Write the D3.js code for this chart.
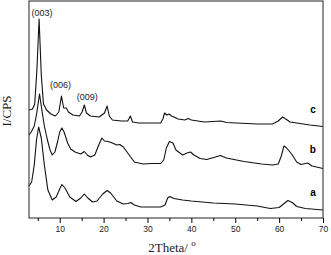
<!DOCTYPE html>
<html>
<head>
<meta charset="utf-8">
<script src="https://cdn.jsdelivr.net/npm/d3@7"></script>
<style>
  body { margin: 0; background: #fff; }
  svg { display: block; }
</style>
</head>
<body>
<script>
// XRD patterns, 2theta vs intensity (arbitrary units)
const thetaC = [3, 3.8, 4.3, 4.8, 5.3, 5.8, 6.3, 7, 8, 9, 9.8, 10.4, 10.9, 11.5, 12, 13, 14.5, 15.1, 15.6, 16.1, 17, 19, 20.2, 20.8, 21.3, 22, 24, 25.5, 26.1, 26.6, 28, 33, 33.5, 33.9, 34.4, 34.9, 35.5, 37, 38.5, 39.3, 40, 43, 46.7, 48, 55, 58.5, 59.8, 60.8, 61.5, 62.5, 64, 67, 70];
const pixC = [110, 109, 104, 70, 19, 75, 104, 110, 114, 116, 112, 96, 108, 108, 112, 115, 116, 112, 105, 113, 116, 117, 113, 106, 116, 120, 121, 121, 116, 122, 123, 123, 119, 113, 115, 114, 116, 119, 120, 118.5, 120, 122, 121, 122.5, 124, 124, 121, 117, 119, 122, 123, 125, 126.5];

const thetaB = [3, 3.5, 4.2, 4.7, 5.4, 6.0, 6.5, 7.2, 7.8, 8.3, 8.9, 9.5, 10.0, 10.5, 11, 11.8, 12.5, 13.5, 14.8, 15.6, 16.3, 17, 18, 18.8, 19.6, 20.2, 21, 22, 23, 23.7, 24.5, 25.5, 27, 29, 31, 33, 33.7, 34.3, 35, 35.8, 36.5, 38, 39, 39.8, 40.6, 42, 43.5, 45.5, 46.6, 48, 52, 56, 58.5, 59.8, 60.5, 61.1, 61.6, 62.3, 63, 64, 65, 66.5, 67.5, 70];
const pixB = [135, 132, 126, 115, 94, 112, 126, 140, 150, 155, 152, 142, 132, 128, 132, 143, 149, 152, 154, 151.5, 155, 157, 155, 146, 138, 141, 141.5, 143, 145, 144.5, 147, 153, 162, 164, 163.5, 163.5, 160, 148, 141.5, 143, 150, 155, 153, 152, 155, 158.5, 159.5, 157, 155.5, 158, 161.5, 164, 165, 164, 156, 146, 147.5, 151, 155, 162, 164.5, 163, 166, 168.5];

const thetaA = [3, 3.6, 4.2, 4.7, 5.2, 5.8, 6.5, 7.3, 8.3, 9.2, 10, 10.5, 11.2, 12.3, 13.7, 14.8, 15.6, 16.4, 17.5, 18.5, 19.8, 20.8, 21.6, 23, 24.5, 25.5, 26.2, 27, 28.5, 33, 34, 34.6, 35.1, 36, 38, 40, 45, 50, 55, 58, 60, 61, 62, 63, 64, 66, 70];
const pixA = [186, 182, 165, 140, 127, 138, 165, 190, 200, 197, 189, 184.5, 188, 197, 201.5, 198, 194, 198, 202, 201, 194, 190.5, 193, 201, 204, 203.5, 202.5, 205, 207, 207, 205, 198, 196.5, 198.5, 200, 201, 203, 204, 206, 208.5, 207.5, 204, 200.5, 202.5, 206.5, 208.5, 210];

const seriesNames = ['c', 'b', 'a'];
const peakLabels = ['(003)', '(006)', '(009)'];
const peakTheta = [5.3, 10.4, 15.6];
const xTicks = [10, 20, 30, 40, 50, 60, 70];

const width = 331, height = 255;
const margin = { top: 1, right: 8, bottom: 37, left: 29 };
const plotW = width - margin.left - margin.right;
const plotH = height - margin.top - margin.bottom;
const yTop = 218; // intensity units

const toIntensity = p => yTop - p;
const series = [
  { name: 'c', pts: thetaC.map((t, i) => [t, toIntensity(pixC[i])]) },
  { name: 'b', pts: thetaB.map((t, i) => [t, toIntensity(pixB[i])]) },
  { name: 'a', pts: thetaA.map((t, i) => [t, toIntensity(pixA[i])]) }
];

const svg = d3.select('body').append('svg')
  .attr('width', width)
  .attr('height', height);

const g = svg.append('g')
  .attr('transform', `translate(${margin.left},${margin.top})`);

const x = d3.scaleLinear().domain([3, 70]).range([0, plotW]);
const y = d3.scaleLinear().domain([0, yTop - 1]).range([plotH, 0]);

const line = d3.line()
  .x(d => x(d[0]))
  .y(d => y(d[1]));

g.selectAll('.trace')
  .data(series)
  .enter()
  .append('path')
  .attr('class', 'trace')
  .attr('d', d => line(d.pts))
  .attr('fill', 'none')
  .attr('stroke', '#111')
  .attr('stroke-width', 1.1)
  .attr('stroke-linejoin', 'round');

// frame
g.append('rect')
  .attr('x', 0).attr('y', 0)
  .attr('width', plotW).attr('height', plotH)
  .attr('fill', 'none')
  .attr('stroke', '#222')
  .attr('stroke-width', 1);

// x axis, major + minor ticks
const xAxis = g.append('g')
  .attr('transform', `translate(0,${plotH})`)
  .call(d3.axisBottom(x).tickValues(xTicks).tickSize(5).tickPadding(3));
xAxis.select('.domain').remove();
xAxis.selectAll('text')
  .attr('font-family', 'Liberation Sans, Arial, sans-serif')
  .attr('font-size', 8.5)
  .attr('fill', '#222');

g.append('g')
  .attr('transform', `translate(0,${plotH})`)
  .call(d3.axisBottom(x).tickValues(d3.range(5, 70, 10)).tickSize(3).tickFormat(''))
  .select('.domain').remove();

// series letters
const labelY = { c: 110, b: 150, a: 193 };
g.selectAll('.series-label')
  .data(seriesNames)
  .enter()
  .append('text')
  .attr('x', x(67.7))
  .attr('y', d => y(toIntensity(labelY[d])) - margin.top)
  .attr('dy', '0.35em')
  .attr('text-anchor', 'middle')
  .attr('font-family', 'Liberation Sans, Arial, sans-serif')
  .attr('font-weight', 'bold')
  .attr('font-size', 10)
  .text(d => d);

// peak labels
const peakY = [14, 86, 98];
g.selectAll('.peak-label')
  .data(peakLabels)
  .enter()
  .append('text')
  .attr('x', (d, i) => x(peakTheta[i]) + [3, -1, 3][i])
  .attr('y', (d, i) => y(toIntensity(peakY[i])) - margin.top)
  .attr('dy', '0.35em')
  .attr('text-anchor', 'middle')
  .attr('font-family', 'Liberation Sans, Arial, sans-serif')
  .attr('font-size', 9)
  .attr('fill', '#222')
  .text(d => d);

// axis titles
const xTitle = svg.append('text')
  .attr('x', 172)
  .attr('y', 252)
  .attr('text-anchor', 'middle')
  .attr('font-family', 'Liberation Serif, Times New Roman, serif')
  .attr('font-size', 13)
  .attr('fill', '#222');
xTitle.append('tspan').text('2Theta/ ');
xTitle.append('tspan')
  .attr('font-size', 9)
  .attr('dy', -6)
  .text('o');

svg.append('text')
  .attr('transform', 'translate(11,111) rotate(-90)')
  .attr('text-anchor', 'middle')
  .attr('font-family', 'Liberation Serif, Times New Roman, serif')
  .attr('font-size', 13)
  .attr('fill', '#222')
  .text('I/CPS');
</script>
</body>
</html>
